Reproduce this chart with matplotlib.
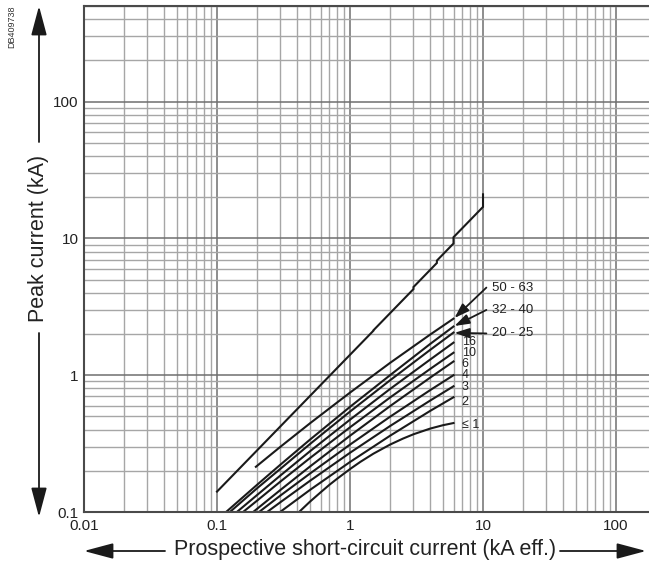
import numpy as np
import matplotlib.pyplot as plt
from matplotlib.ticker import FixedLocator, NullFormatter

plt.rcParams['font.family'] = ['Liberation Sans', 'DejaVu Sans']

# prospective peak (no limitation), n factor steps
peak_x = [0.1, 1.5, 1.5, 3, 3, 4.5, 4.5, 6, 6, 10, 10]
peak_y = [0.141, 2.115, 2.13, 4.26, 4.41, 6.615, 6.885, 9.18, 10.2, 17.0, 21.0]

# limited peak current curves (rating in A)
ratings = ['50 - 63', '32 - 40', '20 - 25', '16', '10', '6', '4', '3', '2', '≤ 1']
curve_x = [
    [0.196, 0.3, 0.5, 1, 2, 4, 6],
    [0.117, 0.2, 0.3, 0.5, 1, 2, 4, 6],
    [0.125, 0.2, 0.3, 0.5, 1, 2, 4, 6],
    [0.141, 0.2, 0.3, 0.5, 1, 2, 4, 6],
    [0.157, 0.2, 0.3, 0.5, 1, 2, 4, 6],
    [0.187, 0.3, 0.5, 1, 2, 4, 6],
    [0.207, 0.3, 0.5, 1, 2, 4, 6],
    [0.238, 0.3, 0.5, 1, 2, 4, 6],
    [0.298, 0.5, 1, 2, 4, 6],
    [0.414, 0.45, 0.5, 0.6, 0.7, 0.8, 1, 1.2, 1.5, 2, 2.5, 3, 4, 5, 6],
]
curve_y = [
    [0.214, 0.30, 0.445, 0.746, 1.23, 1.98, 2.59],
    [0.1, 0.158, 0.222, 0.338, 0.587, 1.00, 1.69, 2.27],
    [0.1, 0.149, 0.207, 0.314, 0.542, 0.918, 1.53, 2.05],
    [0.1, 0.133, 0.185, 0.278, 0.473, 0.793, 1.30, 1.73],
    [0.1, 0.121, 0.167, 0.248, 0.416, 0.687, 1.11, 1.46],
    [0.1, 0.145, 0.215, 0.361, 0.594, 0.959, 1.26],
    [0.1, 0.132, 0.191, 0.311, 0.497, 0.777, 1.0],
    [0.1, 0.118, 0.169, 0.271, 0.425, 0.652, 0.83],
    [0.1, 0.145, 0.232, 0.361, 0.548, 0.69],
    [0.1, 0.108, 0.119, 0.139, 0.158, 0.175, 0.206, 0.233, 0.267, 0.311,
     0.344, 0.37, 0.407, 0.431, 0.447],
]
# label positions (small ratings written at curve ends)
small_label_y = [1.76, 1.45, 1.21, 1.0, 0.82, 0.64, 0.435]
# arrowed labels: text y, arrow tip y
arrow_label_y = [4.37, 3.0, 2.02]
arrow_tip_y = [2.62, 2.29, 2.04]

fig = plt.figure(figsize=(6.49, 5.62), dpi=100)
ax = fig.add_axes([84 / 649, 1 - 512 / 562, 1 - 84 / 649, (512 - 6) / 562])
ax.set_xscale('log')
ax.set_yscale('log')
ax.set_xlim(0.01, 177)
ax.set_ylim(0.1, 500)

minor = [m * 10.0 ** e for e in range(-2, 3) for m in range(2, 10)]
ax.xaxis.set_minor_locator(FixedLocator(minor))
ax.yaxis.set_minor_locator(FixedLocator([m * 10.0 ** e for e in range(-1, 3) for m in range(2, 10)]))
ax.xaxis.set_minor_formatter(NullFormatter())
ax.yaxis.set_minor_formatter(NullFormatter())
ax.set_xticks([0.01, 0.1, 1, 10, 100])
ax.set_xticklabels(['0.01', '0.1', '1', '10', '100'])
ax.set_yticks([0.1, 1, 10, 100])
ax.set_yticklabels(['0.1', '1', '10', '100'])
ax.grid(True, which='major', color='#6f6f6f', lw=1.1)
ax.grid(True, which='minor', color='#a6a6a6', lw=1.0)
ax.tick_params(which='both', length=0, labelsize=11, labelcolor='#222222')
ax.tick_params(axis='x', pad=5)
ax.tick_params(axis='y', pad=4)
for s in ['left', 'bottom', 'top']:
    ax.spines[s].set_color('#4a4a4a')
    ax.spines[s].set_linewidth(1.5)
ax.spines['right'].set_visible(False)

ax.plot(peak_x, peak_y, color='#1a1a1a', lw=1.5, solid_joinstyle='miter')
for xs, ys in zip(curve_x, curve_y):
    ax.plot(xs, ys, color='#1a1a1a', lw=1.5)

for lab, yy in zip(ratings[3:], small_label_y):
    ax.text(6.9, yy, lab, fontsize=9, va='center', ha='left', color='#222222')
for lab, yy, tip in zip(ratings[:3], arrow_label_y, arrow_tip_y):
    ax.text(11.6, yy, lab, fontsize=9.5, va='center', ha='left', color='#222222')
    ax.annotate('', xy=(6.1, tip), xytext=(10.6, yy * 1.0),
                arrowprops=dict(arrowstyle='-|>,head_length=0.9,head_width=0.3',
                                color='#1a1a1a', lw=1.3, shrinkA=0, shrinkB=0,
                                mutation_scale=10))

# axis titles with arrows
fig.text(39 / 649, 1 - 238 / 562, 'Peak current (kA)', rotation=90, fontsize=15.5,
         ha='center', va='center', color='#222222')
fig.text(365 / 649, 1 - 549 / 562, 'Prospective short-circuit current (kA eff.)',
         fontsize=15.5, ha='center', va='center', color='#222222')
arr = dict(arrowstyle='-|>,head_length=1.5,head_width=0.4', color='#1a1a1a',
           lw=1.3, shrinkA=0, shrinkB=0, mutation_scale=12)
ax.annotate('', xy=(39, 562 - 6), xytext=(39, 562 - 142), xycoords='figure pixels',
            textcoords='figure pixels', arrowprops=arr, annotation_clip=False)
ax.annotate('', xy=(39, 562 - 517), xytext=(39, 562 - 333), xycoords='figure pixels',
            textcoords='figure pixels', arrowprops=arr, annotation_clip=False)
ax.annotate('', xy=(84, 11), xytext=(165, 11), xycoords='figure pixels',
            textcoords='figure pixels', arrowprops=arr, annotation_clip=False)
ax.annotate('', xy=(646, 11), xytext=(560, 11), xycoords='figure pixels',
            textcoords='figure pixels', arrowprops=arr, annotation_clip=False)

fig.text(12 / 649, 1 - 5 / 562, 'DB409738', rotation=90, fontsize=6.5,
         ha='center', va='top', color='#333333')

fig.savefig('out.png', dpi=100)
